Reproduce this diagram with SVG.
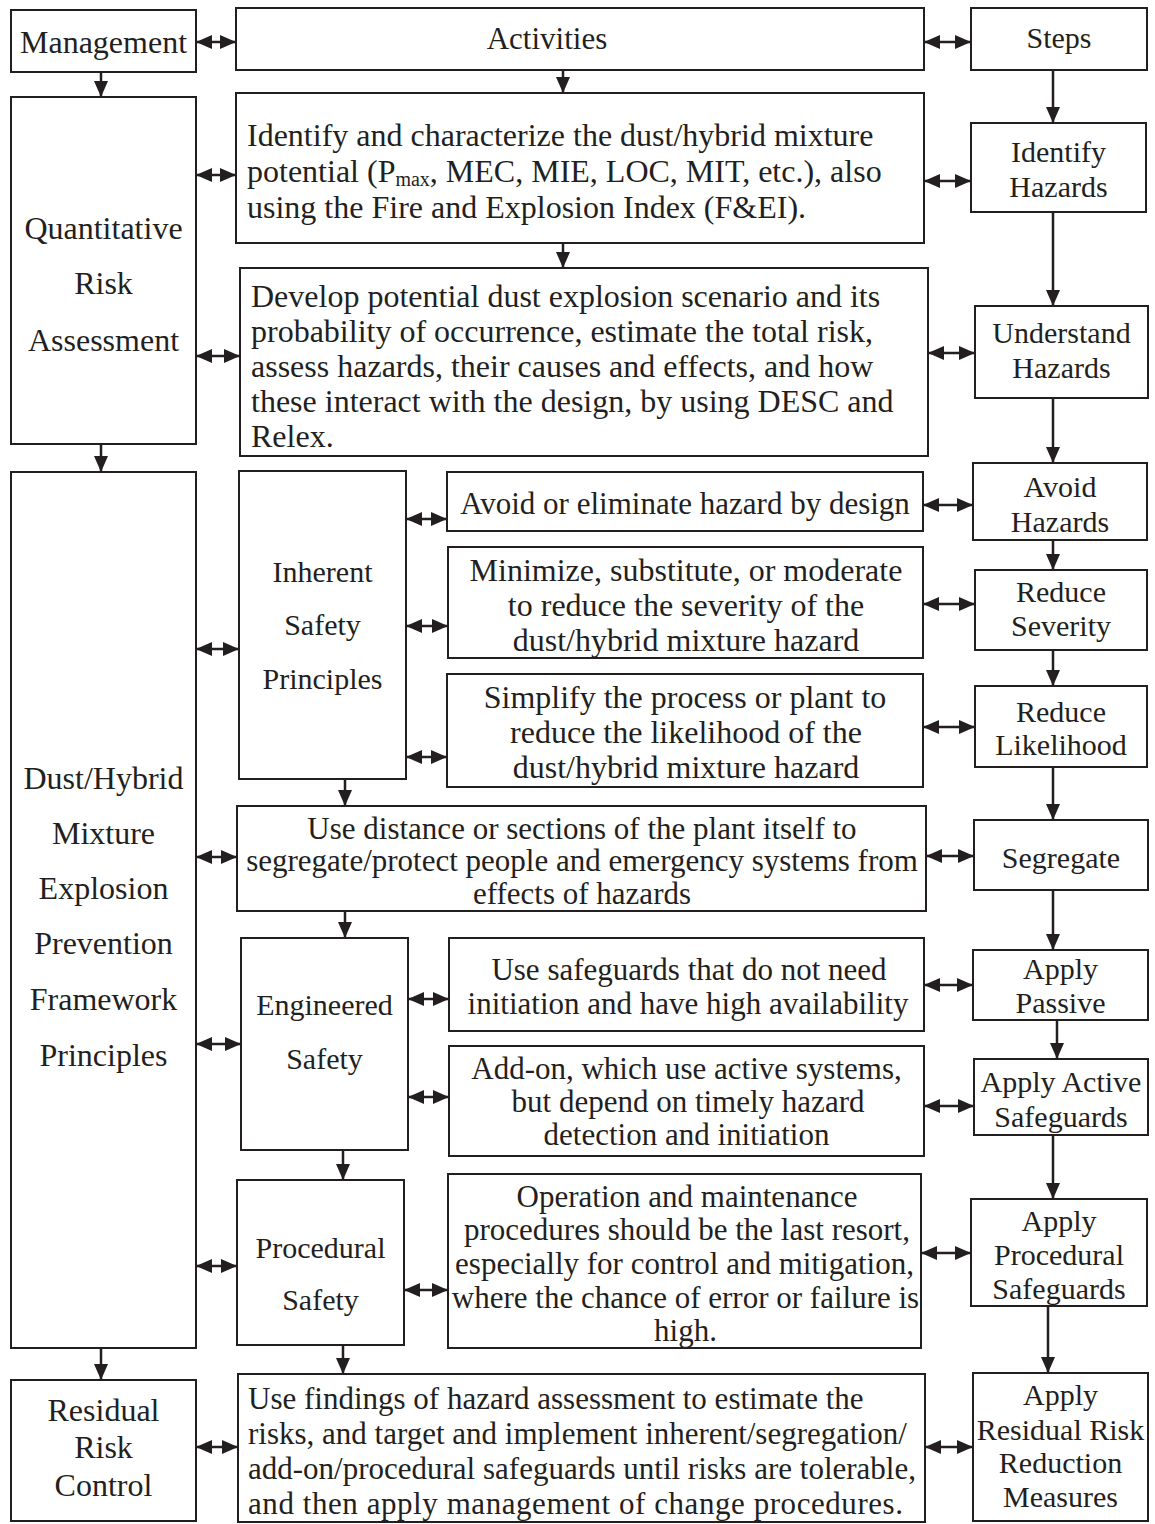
<svg xmlns="http://www.w3.org/2000/svg" width="1155" height="1524" viewBox="0 0 1155 1524">
  <style>
    .box { fill: #ffffff; stroke: #231f20; stroke-width: 2; }
    .t { font-family: "Liberation Serif", "Times New Roman", serif; font-size: 30px; fill: #231f20; }
    .c { text-anchor: middle; }
    .l { font-size: 32px; }
    .m { font-size: 31px; }
    .big { font-size: 32px; }
    .sub { font-size: 20px; }
    .link { stroke: #231f20; stroke-width: 2.5; fill: none; }
    .one { marker-end: url(#head); }
    .two { marker-start: url(#tail); marker-end: url(#head); }
  </style>
  <defs>
    <marker id="head" markerUnits="userSpaceOnUse" markerWidth="16" markerHeight="16" viewBox="0 0 16 16" refX="16" refY="8" orient="auto">
      <path d="M0,1 L16,8 L0,15 Z" fill="#231f20"/>
    </marker>
    <marker id="tail" markerUnits="userSpaceOnUse" markerWidth="16" markerHeight="16" viewBox="0 0 16 16" refX="0" refY="8" orient="auto">
      <path d="M16,1 L0,8 L16,15 Z" fill="#231f20"/>
    </marker>
  </defs>
  <rect width="1155" height="1524" fill="#ffffff"/>

  <!-- left column: management levels -->
  <g id="management">
    <rect class="box" x="11" y="10" width="185" height="62"/>
    <text class="t c l" x="103.5" y="53">Management</text>
  </g>
  <g id="qra">
    <rect class="box" x="11" y="97" width="185" height="347"/>
    <text class="t c l" x="103.5" y="239">Quantitative</text>
    <text class="t c l" x="103.5" y="294">Risk</text>
    <text class="t c l" x="103.5" y="351">Assessment</text>
  </g>
  <g id="framework">
    <rect class="box" x="11" y="472" width="185" height="876"/>
    <text class="t c l" x="103.5" y="789">Dust/Hybrid</text>
    <text class="t c l" x="103.5" y="844">Mixture</text>
    <text class="t c l" x="103.5" y="899">Explosion</text>
    <text class="t c l" x="103.5" y="954">Prevention</text>
    <text class="t c l" x="103.5" y="1010">Framework</text>
    <text class="t c l" x="103.5" y="1066">Principles</text>
  </g>
  <g id="residual-control">
    <rect class="box" x="11" y="1380" width="185" height="141"/>
    <text class="t c l" x="103.5" y="1421">Residual</text>
    <text class="t c l" x="103.5" y="1458">Risk</text>
    <text class="t c l" x="103.5" y="1496">Control</text>
  </g>

  <!-- middle column: activities -->
  <g id="activities">
    <rect class="box" x="236" y="8" width="688" height="62"/>
    <text class="t c m" x="547" y="49">Activities</text>
  </g>
  <g id="characterize">
    <rect class="box" x="236" y="93" width="688" height="150"/>
    <text class="t big" x="247" y="146">Identify and characterize the dust/hybrid mixture</text>
    <text class="t big" x="247" y="182">potential (P<tspan class="sub" dy="4">max</tspan><tspan dy="-4">, MEC, MIE, LOC, MIT, etc.), also</tspan></text>
    <text class="t big" x="247" y="218">using the Fire and Explosion Index (F&amp;EI).</text>
  </g>
  <g id="scenario">
    <rect class="box" x="240" y="268" width="688" height="188"/>
    <text class="t big" x="251" y="307">Develop potential dust explosion scenario and its</text>
    <text class="t big" x="251" y="342">probability of occurrence, estimate the total risk,</text>
    <text class="t big" x="251" y="377">assess hazards, their causes and effects, and how</text>
    <text class="t big" x="251" y="412">these interact with the design, by using DESC and</text>
    <text class="t big" x="251" y="447">Relex.</text>
  </g>
  <g id="inherent">
    <rect class="box" x="239" y="471" width="167" height="308"/>
    <text class="t c" x="322.5" y="582">Inherent</text>
    <text class="t c" x="322.5" y="635">Safety</text>
    <text class="t c" x="322.5" y="689">Principles</text>
  </g>
  <g id="avoid">
    <rect class="box" x="447" y="472" width="476" height="59"/>
    <text class="t c m" x="685" y="514">Avoid or eliminate hazard by design</text>
  </g>
  <g id="minimize">
    <rect class="box" x="448" y="547" width="475" height="111"/>
    <text class="t c big" x="686" y="581">Minimize, substitute, or moderate</text>
    <text class="t c big" x="686" y="616">to reduce the severity of the</text>
    <text class="t c big" x="686" y="651">dust/hybrid mixture hazard</text>
  </g>
  <g id="simplify">
    <rect class="box" x="447" y="674" width="476" height="113"/>
    <text class="t c big" x="685" y="708">Simplify the process or plant to</text>
    <text class="t c big" x="686" y="743">reduce the likelihood of the</text>
    <text class="t c big" x="686" y="778">dust/hybrid mixture hazard</text>
  </g>
  <g id="distance">
    <rect class="box" x="237" y="806" width="689" height="105"/>
    <text class="t c m" x="582" y="839">Use distance or sections of the plant itself to</text>
    <text class="t c m" x="582" y="871">segregate/protect people and emergency systems from</text>
    <text class="t c m" x="582" y="904">effects of hazards</text>
  </g>
  <g id="engineered">
    <rect class="box" x="241" y="938" width="167" height="212"/>
    <text class="t c" x="324.5" y="1015">Engineered</text>
    <text class="t c" x="324.5" y="1069">Safety</text>
  </g>
  <g id="passive-use">
    <rect class="box" x="449" y="938" width="475" height="93"/>
    <text class="t c m" x="689" y="980">Use safeguards that do not need</text>
    <text class="t c m" x="688" y="1014">initiation and have high availability</text>
  </g>
  <g id="active-use">
    <rect class="box" x="449" y="1046" width="475" height="110"/>
    <text class="t c m" x="686.5" y="1079">Add-on, which use active systems,</text>
    <text class="t c m" x="688" y="1112">but depend on timely hazard</text>
    <text class="t c m" x="686.5" y="1145">detection and initiation</text>
  </g>
  <g id="procedural">
    <rect class="box" x="237" y="1180" width="167" height="165"/>
    <text class="t c" x="320.5" y="1258">Procedural</text>
    <text class="t c" x="320.5" y="1310">Safety</text>
  </g>
  <g id="operation">
    <rect class="box" x="448" y="1174" width="473" height="174"/>
    <text class="t c m" x="687" y="1207">Operation and maintenance</text>
    <text class="t c m" x="687" y="1240">procedures should be the last resort,</text>
    <text class="t c m" x="684.5" y="1274">especially for control and mitigation,</text>
    <text class="t c m" x="685.5" y="1308">where the chance of error or failure is</text>
    <text class="t c m" x="685.5" y="1341">high.</text>
  </g>
  <g id="findings">
    <rect class="box" x="238" y="1374" width="687" height="148"/>
    <text class="t m" x="248" y="1409">Use findings of hazard assessment to estimate the</text>
    <text class="t m" x="248" y="1444">risks, and target and implement inherent/segregation/</text>
    <text class="t m" x="248" y="1479">add-on/procedural safeguards until risks are tolerable,</text>
    <text class="t m" x="248" y="1514" textLength="655" lengthAdjust="spacing">and then apply management of change procedures.</text>
  </g>

  <!-- right column: steps -->
  <g id="steps">
    <rect class="box" x="971" y="8" width="176" height="62"/>
    <text class="t c" x="1059" y="48">Steps</text>
  </g>
  <g id="identify-hazards">
    <rect class="box" x="971" y="123" width="175" height="89"/>
    <text class="t c" x="1058.5" y="162">Identify</text>
    <text class="t c" x="1058.5" y="197">Hazards</text>
  </g>
  <g id="understand-hazards">
    <rect class="box" x="975" y="306" width="173" height="92"/>
    <text class="t c" x="1061.5" y="343">Understand</text>
    <text class="t c" x="1061.5" y="378">Hazards</text>
  </g>
  <g id="avoid-hazards">
    <rect class="box" x="973" y="463" width="174" height="77"/>
    <text class="t c" x="1060" y="497">Avoid</text>
    <text class="t c" x="1060" y="532">Hazards</text>
  </g>
  <g id="reduce-severity">
    <rect class="box" x="975" y="570" width="172" height="80"/>
    <text class="t c" x="1061" y="602">Reduce</text>
    <text class="t c" x="1061" y="636">Severity</text>
  </g>
  <g id="reduce-likelihood">
    <rect class="box" x="975" y="686" width="172" height="81"/>
    <text class="t c" x="1061" y="722">Reduce</text>
    <text class="t c" x="1061" y="755">Likelihood</text>
  </g>
  <g id="segregate">
    <rect class="box" x="974" y="820" width="174" height="70"/>
    <text class="t c" x="1061" y="868">Segregate</text>
  </g>
  <g id="apply-passive">
    <rect class="box" x="973" y="950" width="175" height="70"/>
    <text class="t c" x="1060.5" y="979">Apply</text>
    <text class="t c" x="1060.5" y="1013">Passive</text>
  </g>
  <g id="apply-active">
    <rect class="box" x="974" y="1059" width="174" height="76"/>
    <text class="t c" x="1061" y="1092">Apply Active</text>
    <text class="t c" x="1061" y="1127">Safeguards</text>
  </g>
  <g id="apply-procedural">
    <rect class="box" x="971" y="1199" width="176" height="107"/>
    <text class="t c" x="1059" y="1231">Apply</text>
    <text class="t c" x="1059" y="1265">Procedural</text>
    <text class="t c" x="1059" y="1299">Safeguards</text>
  </g>
  <g id="apply-residual">
    <rect class="box" x="973" y="1373" width="175" height="148"/>
    <text class="t c" x="1060.5" y="1405">Apply</text>
    <text class="t c" x="1060.5" y="1440">Residual Risk</text>
    <text class="t c" x="1060.5" y="1473">Reduction</text>
    <text class="t c" x="1060.5" y="1507">Measures</text>
  </g>

  <!-- connectors -->
  <g id="connectors">
    <!-- left column flow -->
    <line class="link one" x1="101" y1="72" x2="101" y2="97"/>
    <line class="link one" x1="101" y1="444" x2="101" y2="472"/>
    <line class="link one" x1="101" y1="1348" x2="101" y2="1380"/>
    <!-- middle column flow -->
    <line class="link one" x1="563" y1="70" x2="563" y2="93"/>
    <line class="link one" x1="563" y1="243" x2="563" y2="268"/>
    <line class="link one" x1="345" y1="779" x2="345" y2="806"/>
    <line class="link one" x1="345" y1="911" x2="345" y2="938"/>
    <line class="link one" x1="343" y1="1150" x2="343" y2="1180"/>
    <line class="link one" x1="343" y1="1345" x2="343" y2="1374"/>
    <!-- right column flow -->
    <line class="link one" x1="1053" y1="70" x2="1053" y2="123"/>
    <line class="link one" x1="1053" y1="212" x2="1053" y2="306"/>
    <line class="link one" x1="1053" y1="398" x2="1053" y2="463"/>
    <line class="link one" x1="1053" y1="540" x2="1053" y2="570"/>
    <line class="link one" x1="1053" y1="650" x2="1053" y2="686"/>
    <line class="link one" x1="1053" y1="767" x2="1053" y2="820"/>
    <line class="link one" x1="1053" y1="890" x2="1053" y2="950"/>
    <line class="link one" x1="1057" y1="1020" x2="1057" y2="1059"/>
    <line class="link one" x1="1053" y1="1135" x2="1053" y2="1199"/>
    <line class="link one" x1="1048" y1="1306" x2="1048" y2="1373"/>
    <!-- management to activities -->
    <line class="link two" x1="196" y1="42" x2="236" y2="42"/>
    <line class="link two" x1="196" y1="175" x2="236" y2="175"/>
    <line class="link two" x1="196" y1="356" x2="240" y2="356"/>
    <line class="link two" x1="196" y1="649" x2="239" y2="649"/>
    <line class="link two" x1="196" y1="857" x2="237" y2="857"/>
    <line class="link two" x1="196" y1="1044" x2="241" y2="1044"/>
    <line class="link two" x1="196" y1="1266" x2="237" y2="1266"/>
    <line class="link two" x1="196" y1="1447" x2="238" y2="1447"/>
    <!-- principles to measures -->
    <line class="link two" x1="406" y1="519" x2="447" y2="519"/>
    <line class="link two" x1="406" y1="626" x2="448" y2="626"/>
    <line class="link two" x1="406" y1="757" x2="447" y2="757"/>
    <line class="link two" x1="408" y1="999" x2="449" y2="999"/>
    <line class="link two" x1="408" y1="1097" x2="449" y2="1097"/>
    <line class="link two" x1="404" y1="1290" x2="448" y2="1290"/>
    <!-- activities to steps -->
    <line class="link two" x1="924" y1="42" x2="971" y2="42"/>
    <line class="link two" x1="924" y1="181" x2="971" y2="181"/>
    <line class="link two" x1="928" y1="353" x2="975" y2="353"/>
    <line class="link two" x1="923" y1="505" x2="973" y2="505"/>
    <line class="link two" x1="923" y1="604" x2="975" y2="604"/>
    <line class="link two" x1="923" y1="727" x2="975" y2="727"/>
    <line class="link two" x1="926" y1="856" x2="974" y2="856"/>
    <line class="link two" x1="924" y1="985" x2="973" y2="985"/>
    <line class="link two" x1="924" y1="1106" x2="974" y2="1106"/>
    <line class="link two" x1="921" y1="1253" x2="971" y2="1253"/>
    <line class="link two" x1="925" y1="1447" x2="973" y2="1447"/>
  </g>
</svg>
